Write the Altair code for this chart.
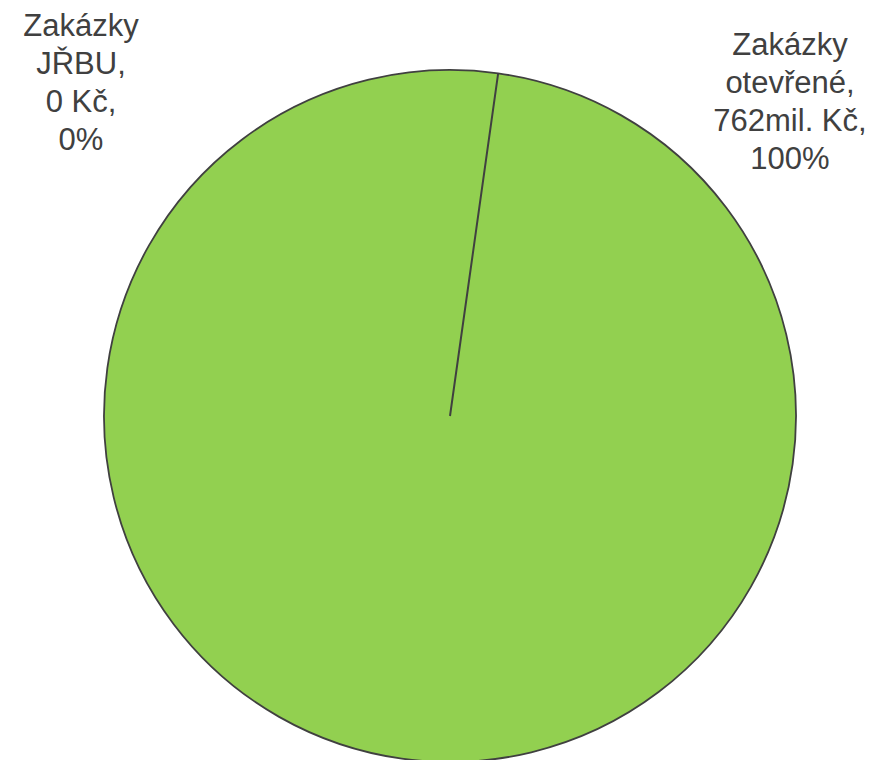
import math
import altair as alt
import pandas as pd

categories = ["Zakázky JŘBU", "Zakázky otevřené"]
values = [0, 762]
labels = ["Zakázky\nJŘBU,\n0 Kč,\n0%", "Zakázky\notevřené,\n762mil. Kč,\n100%"]

df = pd.DataFrame({"category": categories, "value": values})

start = math.radians(8.0)
theta_scale = alt.Scale(range=[start, start + 2 * math.pi])

base = alt.Chart(df).encode(
    theta=alt.Theta("value:Q", stack=True, scale=theta_scale),
    order=alt.Order("category:N", sort="ascending"),
    x=alt.value(450),
    y=alt.value(416),
)

pie = base.mark_arc(radius=346, stroke="#404040", strokeWidth=1.8, color="#92D050")

# the zero-valued slice drawn on top so its boundary stays visible
zero_slice = base.mark_arc(
    radius=346, stroke="#404040", strokeWidth=2, fillOpacity=0
).transform_filter(alt.datum.category == categories[0])

lab_left = alt.Chart(pd.DataFrame({"t": [labels[0]]})).mark_text(
    font="Liberation Sans", fontSize=31, lineBreak="\n", lineHeight=38,
    align="center", baseline="alphabetic", color="#404040"
).encode(text="t:N", x=alt.value(81), y=alt.value(36))

lab_right = alt.Chart(pd.DataFrame({"t": [labels[1]]})).mark_text(
    font="Liberation Sans", fontSize=31, lineBreak="\n", lineHeight=38,
    align="center", baseline="alphabetic", color="#404040"
).encode(text="t:N", x=alt.value(790), y=alt.value(55))

chart = alt.layer(pie, zero_slice, lab_left, lab_right).properties(
    width=879, height=760, padding=0,
    autosize=alt.AutoSizeParams(type="none"),
).configure_view(stroke=None)

chart.save("out.html", embed_options={"renderer": "svg", "actions": False})
